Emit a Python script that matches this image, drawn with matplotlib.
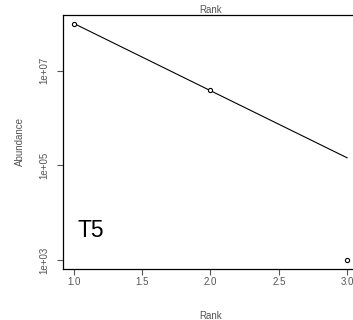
import numpy as np
import matplotlib.pyplot as plt

# observed abundances by rank
rank = [1, 2, 3]
abundance = [9.8e7, 4.0e6, 1.0e3]
# fitted rank-abundance model values
fitted = [1.0e8, 3.8e6, 1.45e5]

plt.rcParams['font.family'] = ['Liberation Sans', 'DejaVu Sans']

fig = plt.figure(figsize=(3.53, 3.2), dpi=100)
ax = fig.add_axes([63 / 353, 51 / 320, 295 / 353, 254 / 320])

ax.plot(rank, fitted, color='black', linewidth=0.8)
ax.scatter(rank, abundance, s=9, facecolors='white', edgecolors='black', linewidths=0.8, zorder=3)

ax.set_yscale('log')
ax.set_xlim(0.92, 3.08)
ax.set_ylim(10 ** 2.81, 10 ** 8.18)
ax.set_xticks([1.0, 1.5, 2.0, 2.5, 3.0])
ax.set_xticklabels(['1.0', '1.5', '2.0', '2.5', '3.0'])
ax.set_yticks([1e3, 1e5, 1e7])
ax.set_yticklabels(['1e+03', '1e+05', '1e+07'], rotation=90, va='center')
ax.minorticks_off()
ax.tick_params(labelsize=7, length=4, width=0.8, colors='#555555')
ax.tick_params(axis='x', pad=2)
ax.tick_params(axis='y', pad=6)
for s in ax.spines.values():
    s.set_linewidth(0.9)

ax.set_xlabel('Rank', fontsize=7, labelpad=17, color='#555555')
ax.set_ylabel('Abundance', fontsize=7, labelpad=10, color='#555555')
ax.set_title('Rank', fontsize=7, pad=1, color='#555555')
ax.text(0.05, 0.15, 'T5', transform=ax.transAxes, fontsize=16.5, va='center', ha='left')

fig.savefig('out.png', dpi=100)
